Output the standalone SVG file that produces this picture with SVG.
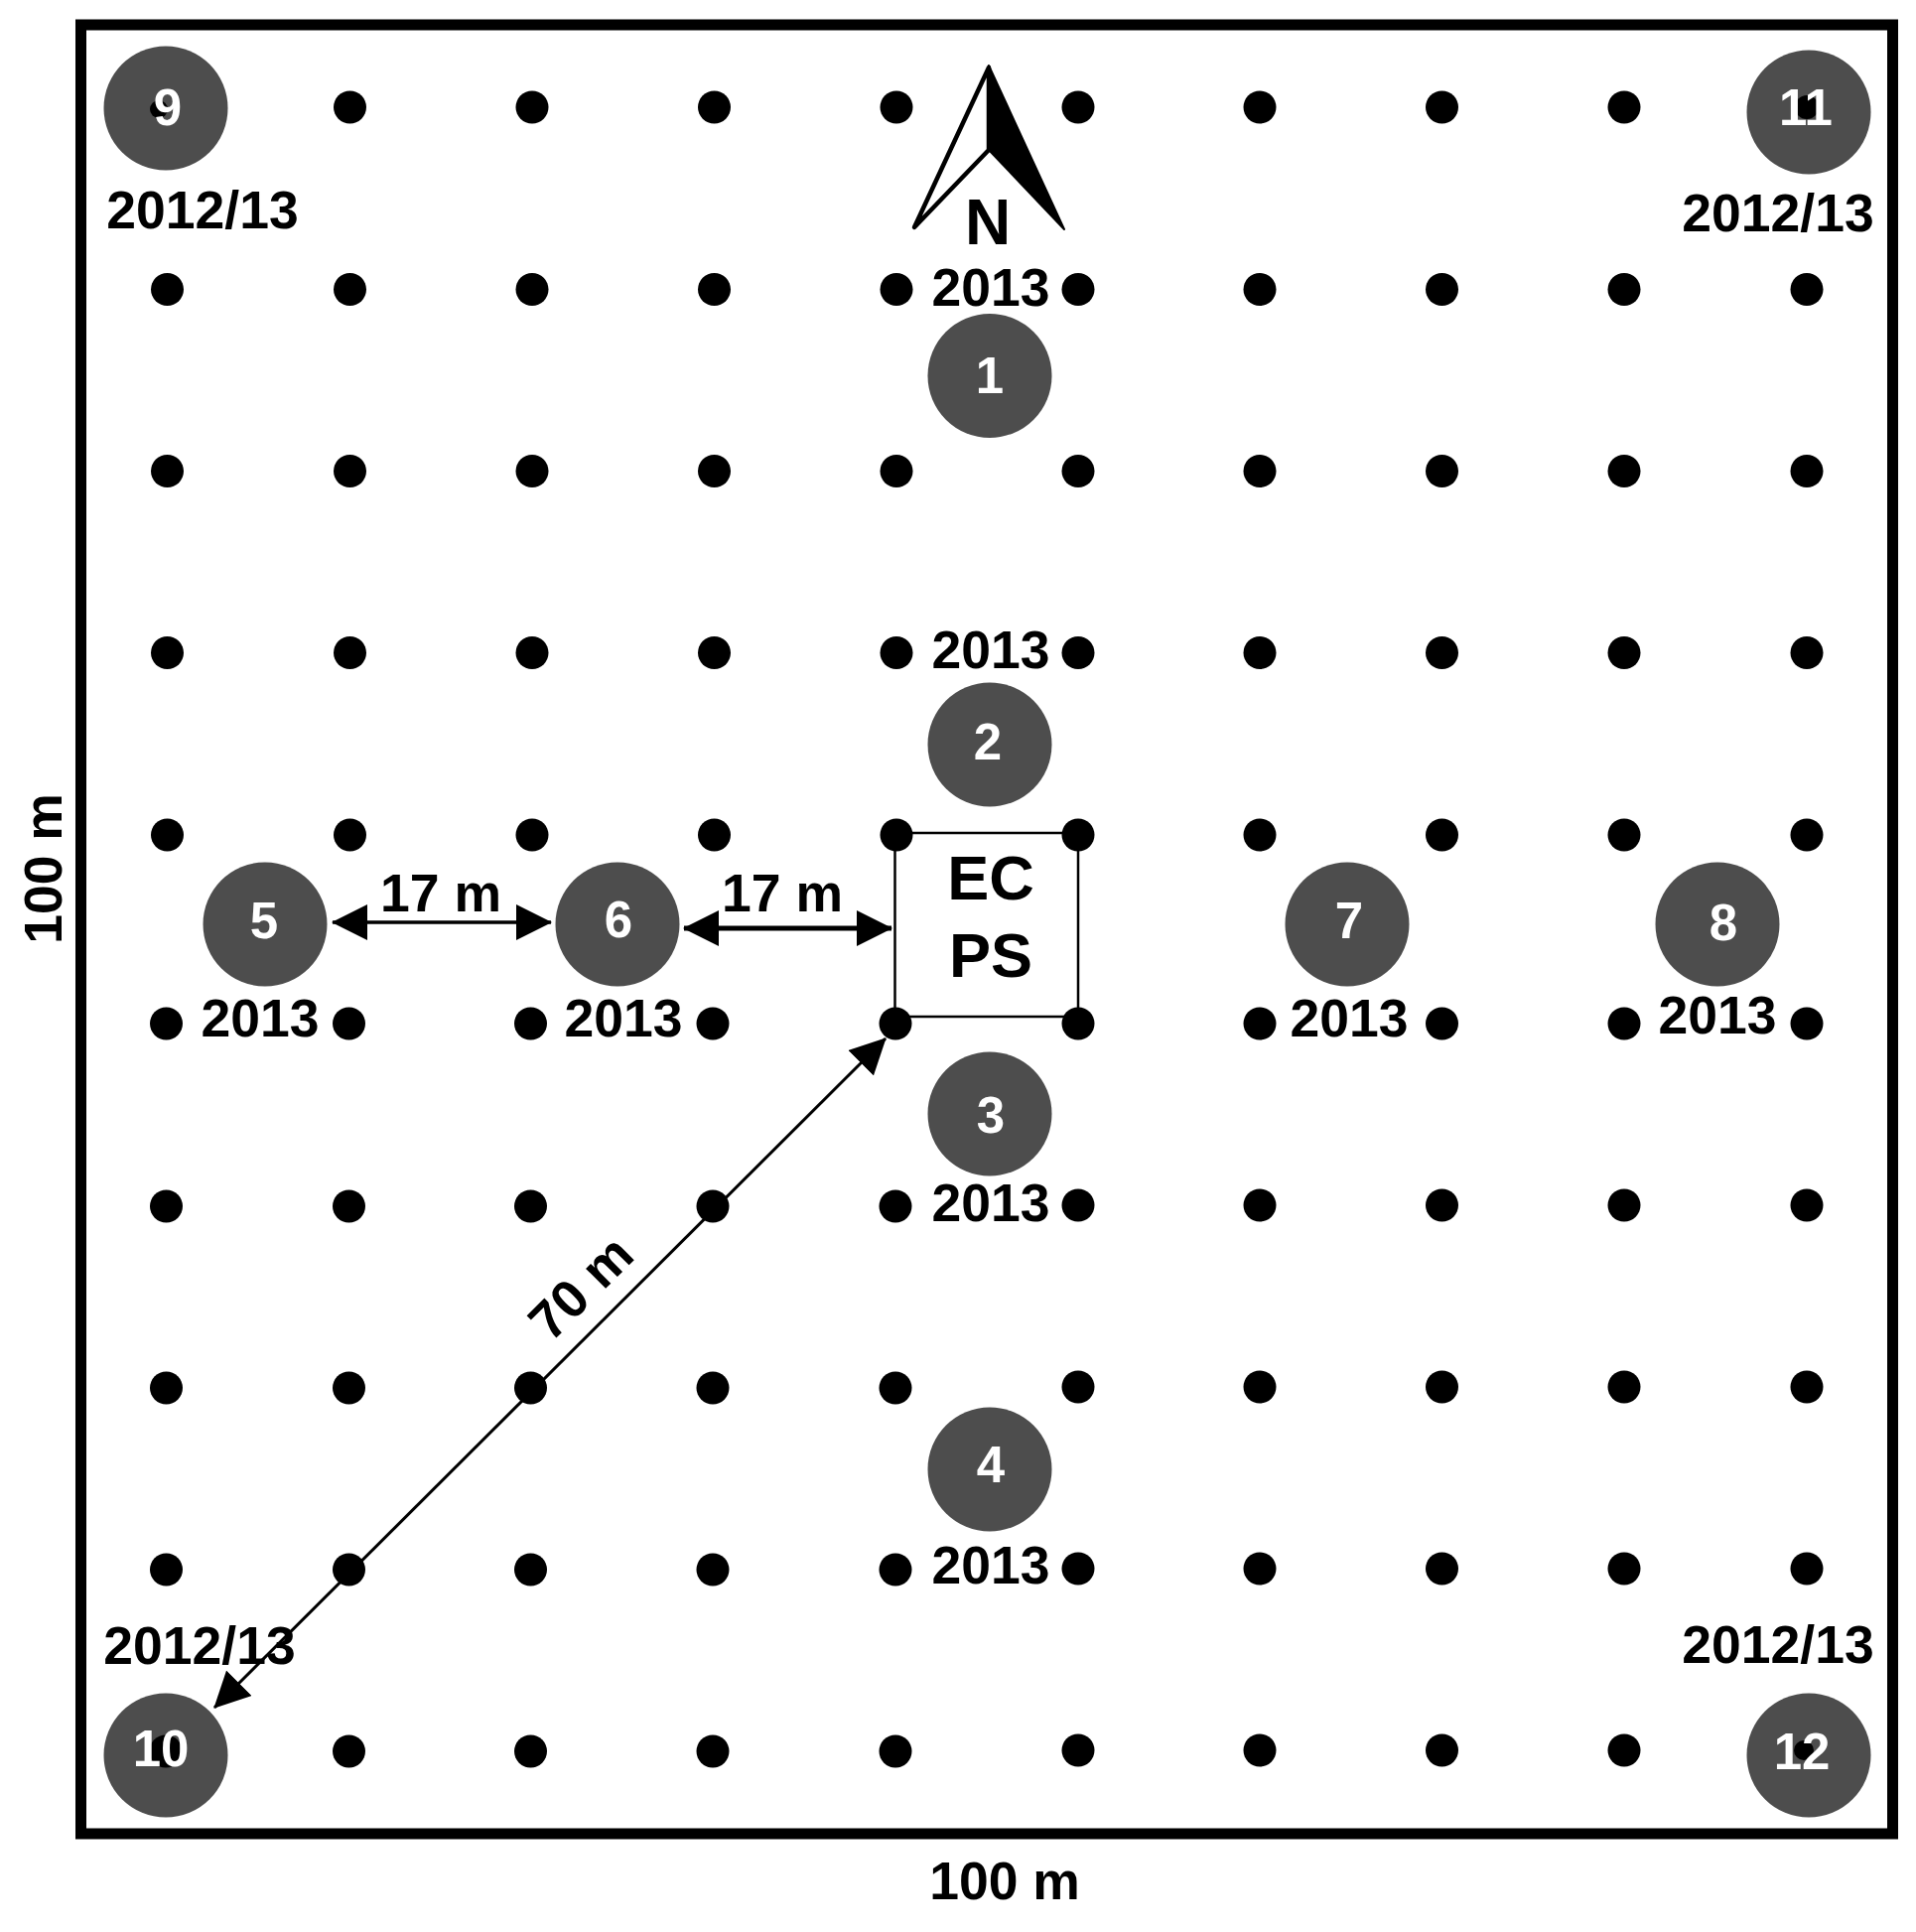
<svg xmlns="http://www.w3.org/2000/svg" width="1930" height="1946" viewBox="0 0 1930 1946">
<style>
text{font-family:"Liberation Sans",Arial,sans-serif;font-weight:bold;fill:#000;text-anchor:middle}
.y{font-size:53.500px}
.d{font-size:53.500px}
.n{font-size:51px;fill:#fff}
.s{fill:#4d4d4d}
.c{stroke:#000;fill:none}
</style>
<defs>
<marker id="a" markerUnits="userSpaceOnUse" markerWidth="36" markerHeight="36" refX="35" refY="18" orient="auto-start-reverse" viewBox="0 0 36 36"><path d="M0 0L36 18L0 36z" fill="#000"/></marker>
<circle id="p" r="16.5" fill="#000"/>
</defs>
<rect width="1930" height="1946" fill="#fff"/>
<rect id="frame" x="81.500" y="25" width="1825" height="1822" fill="none" stroke="#000" stroke-width="11"/>
<g id="grid">
<use href="#p" x="168.500" y="108"/><use href="#p" x="352.500" y="108"/><use href="#p" x="536" y="108"/><use href="#p" x="719.500" y="108"/><use href="#p" x="903" y="108"/><use href="#p" x="1086" y="108"/><use href="#p" x="1269" y="108"/><use href="#p" x="1452.500" y="108"/><use href="#p" x="1636" y="108"/><use href="#p" x="1820" y="108"/>
<use href="#p" x="168.500" y="291.500"/><use href="#p" x="352.500" y="291.500"/><use href="#p" x="536" y="291.500"/><use href="#p" x="719.500" y="291.500"/><use href="#p" x="903" y="291.500"/><use href="#p" x="1086" y="291.500"/><use href="#p" x="1269" y="291.500"/><use href="#p" x="1452.500" y="291.500"/><use href="#p" x="1636" y="291.500"/><use href="#p" x="1820" y="291.500"/>
<use href="#p" x="168.500" y="474.500"/><use href="#p" x="352.500" y="474.500"/><use href="#p" x="536" y="474.500"/><use href="#p" x="719.500" y="474.500"/><use href="#p" x="903" y="474.500"/><use href="#p" x="1086" y="474.500"/><use href="#p" x="1269" y="474.500"/><use href="#p" x="1452.500" y="474.500"/><use href="#p" x="1636" y="474.500"/><use href="#p" x="1820" y="474.500"/>
<use href="#p" x="168.500" y="657.500"/><use href="#p" x="352.500" y="657.500"/><use href="#p" x="536" y="657.500"/><use href="#p" x="719.500" y="657.500"/><use href="#p" x="903" y="657.500"/><use href="#p" x="1086" y="657.500"/><use href="#p" x="1269" y="657.500"/><use href="#p" x="1452.500" y="657.500"/><use href="#p" x="1636" y="657.500"/><use href="#p" x="1820" y="657.500"/>
<use href="#p" x="168.500" y="841"/><use href="#p" x="352.500" y="841"/><use href="#p" x="536" y="841"/><use href="#p" x="719.500" y="841"/><use href="#p" x="903" y="841"/><use href="#p" x="1086" y="841"/><use href="#p" x="1269" y="841"/><use href="#p" x="1452.500" y="841"/><use href="#p" x="1636" y="841"/><use href="#p" x="1820" y="841"/>
<use href="#p" x="167.500" y="1031"/><use href="#p" x="351.500" y="1031"/><use href="#p" x="534.500" y="1031"/><use href="#p" x="718" y="1031"/><use href="#p" x="902" y="1031"/><use href="#p" x="1086" y="1031"/><use href="#p" x="1269" y="1031"/><use href="#p" x="1452.500" y="1031"/><use href="#p" x="1636" y="1031"/><use href="#p" x="1820" y="1031"/>
<use href="#p" x="167.500" y="1215"/><use href="#p" x="351.500" y="1215"/><use href="#p" x="534.500" y="1215"/><use href="#p" x="718" y="1215"/><use href="#p" x="902" y="1215"/><use href="#p" x="1086" y="1214"/><use href="#p" x="1269" y="1214"/><use href="#p" x="1452.500" y="1214"/><use href="#p" x="1636" y="1214"/><use href="#p" x="1820" y="1214"/>
<use href="#p" x="167.500" y="1398"/><use href="#p" x="351.500" y="1398"/><use href="#p" x="534.500" y="1398"/><use href="#p" x="718" y="1398"/><use href="#p" x="902" y="1398"/><use href="#p" x="1086" y="1397"/><use href="#p" x="1269" y="1397"/><use href="#p" x="1452.500" y="1397"/><use href="#p" x="1636" y="1397"/><use href="#p" x="1820" y="1397"/>
<use href="#p" x="167.500" y="1581"/><use href="#p" x="351.500" y="1581"/><use href="#p" x="534.500" y="1581"/><use href="#p" x="718" y="1581"/><use href="#p" x="902" y="1581"/><use href="#p" x="1086" y="1580"/><use href="#p" x="1269" y="1580"/><use href="#p" x="1452.500" y="1580"/><use href="#p" x="1636" y="1580"/><use href="#p" x="1820" y="1580"/>
<use href="#p" x="167.500" y="1764"/><use href="#p" x="351.500" y="1764"/><use href="#p" x="534.500" y="1764"/><use href="#p" x="718" y="1764"/><use href="#p" x="902" y="1764"/><use href="#p" x="1086" y="1763"/><use href="#p" x="1269" y="1763"/><use href="#p" x="1452.500" y="1763"/><use href="#p" x="1636" y="1763"/><use href="#p" x="1820" y="1763"/>
</g>
<g id="north">
<path d="M996 68L921 229L996 151z" fill="#fff" stroke="#000" stroke-width="4.500" stroke-linejoin="round"/>
<path d="M996 66L996 151L1072 231z" fill="#000" stroke="#000" stroke-width="2" stroke-linejoin="round"/>
<text x="995" y="246" style="font-size:64px">N</text>
</g>
<g id="ec-ps">
<rect x="901.500" y="839" width="184.500" height="185" fill="none" stroke="#000" stroke-width="2.500"/>
<text x="998" y="906" style="font-size:63px">EC</text>
<text x="998" y="984" style="font-size:63px">PS</text>
</g>
<g id="connectors">
<line class="c" x1="335" y1="929" x2="555" y2="929" stroke-width="3.500" marker-start="url(#a)" marker-end="url(#a)"/>
<line class="c" x1="689" y1="935" x2="898" y2="935" stroke-width="5" marker-start="url(#a)" marker-end="url(#a)"/>
<line class="c" x1="892" y1="1046" x2="216" y2="1720" stroke-width="3" marker-start="url(#a)" marker-end="url(#a)"/>
</g>
<g id="labels">
<text class="d" x="444" y="918">17 m</text>
<text class="d" x="788" y="918">17 m</text>
<text class="d" transform="translate(598 1310) rotate(-45)">70 m</text>
<text class="d" x="1012" y="1913">100 m</text>
<text class="d" transform="translate(62 875) rotate(-90)">100 m</text>
</g>
<g id="node-1"><circle class="s" cx="997" cy="378.500" r="62.500"/><text class="n" x="997" y="396">1</text><text class="y" x="998" y="308">2013</text></g>
<g id="node-2"><circle class="s" cx="997" cy="750" r="62.500"/><text class="n" x="995" y="765">2</text><text class="y" x="998" y="673">2013</text></g>
<g id="node-3"><circle class="s" cx="997" cy="1122" r="62.500"/><text class="n" x="998" y="1141">3</text><text class="y" x="998" y="1230">2013</text></g>
<g id="node-4"><circle class="s" cx="997" cy="1480" r="62.500"/><text class="n" x="998" y="1493">4</text><text class="y" x="998" y="1595">2013</text></g>
<g id="node-5"><circle class="s" cx="267" cy="931" r="62.500"/><text class="n" x="266" y="945">5</text><text class="y" x="262" y="1044">2013</text></g>
<g id="node-6"><circle class="s" cx="622" cy="931" r="62.500"/><text class="n" x="623" y="944">6</text><text class="y" x="628" y="1044">2013</text></g>
<g id="node-7"><circle class="s" cx="1357" cy="931" r="62.500"/><text class="n" x="1359" y="945">7</text><text class="y" x="1359" y="1044">2013</text></g>
<g id="node-8"><circle class="s" cx="1730" cy="931" r="62.500"/><text class="n" x="1736" y="947">8</text><text class="y" x="1730" y="1041">2013</text></g>
<g id="node-9"><circle class="s" cx="167" cy="109" r="62.500"/><circle cx="160" cy="110" r="9" fill="#000"/><text class="n" x="169" y="126">9</text><text class="y" x="204" y="230">2012/13</text></g>
<g id="node-10"><circle class="s" cx="167" cy="1768" r="62.500"/><circle cx="167" cy="1764" r="16.500" fill="#000"/><text class="n" x="162" y="1779">10</text><text class="y" x="201" y="1676">2012/13</text></g>
<g id="node-11"><circle class="s" cx="1822" cy="113" r="62.500"/><circle cx="1820" cy="108" r="12" fill="#000"/><text class="n" x="1819" y="126">11</text><text class="y" x="1791" y="233">2012/13</text></g>
<g id="node-12"><circle class="s" cx="1822" cy="1768" r="62.500"/><circle cx="1817" cy="1763" r="10" fill="#000"/><text class="n" x="1815" y="1782">12</text><text class="y" x="1791" y="1675">2012/13</text></g>
</svg>
